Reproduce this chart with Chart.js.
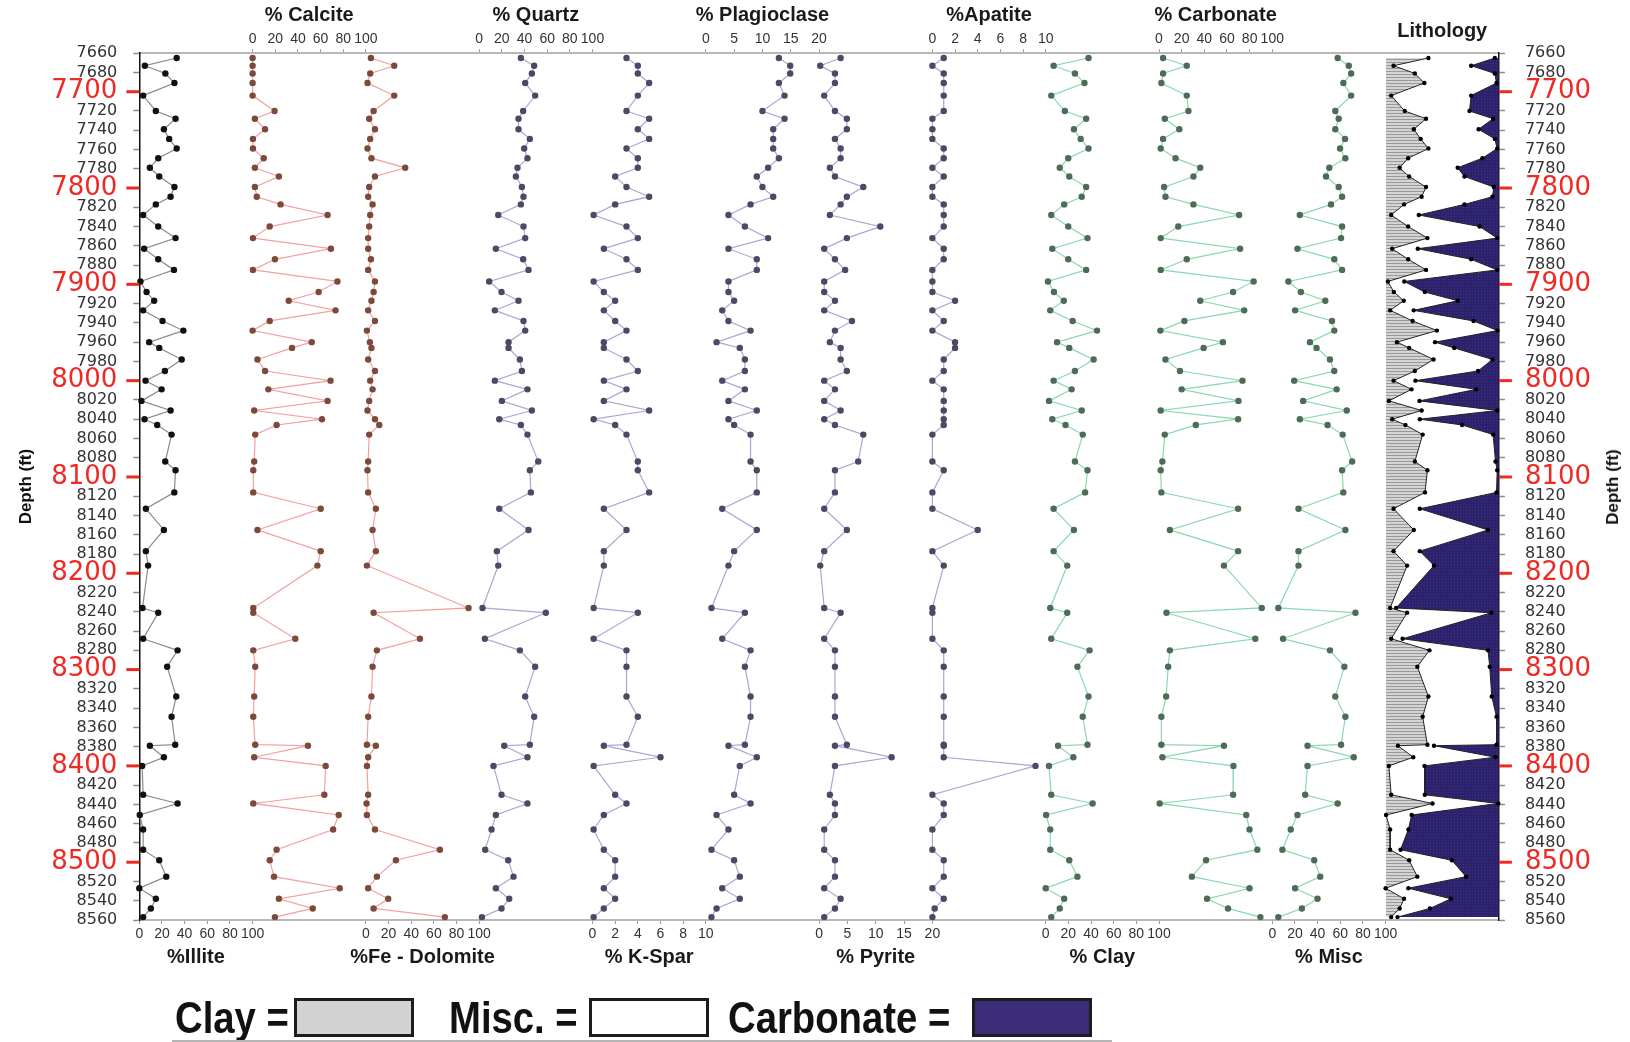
<!DOCTYPE html>
<html>
<head>
<meta charset="utf-8">
<script src="https://cdn.jsdelivr.net/npm/chart.js@4.4.1/dist/chart.umd.min.js"></script>
<style>
  body { margin: 0; background: #fff; width: 1630px; height: 1042px; overflow: hidden; position: relative; font-family: "Liberation Sans", Arial, sans-serif; }
  #wrap canvas { position: absolute; top: 0; }
  .rtitle { position: absolute; left: 1613px; top: 487px; transform: translate(-50%, -50%) rotate(-90deg); font: bold 17px "Liberation Sans", Arial, sans-serif; color: #111; white-space: nowrap; }
  .lg { position: absolute; top: 996px; font: bold 44px/44px "Liberation Sans", Arial, sans-serif; color: #111; transform: scaleX(0.87); transform-origin: 0 0; white-space: nowrap; }
  .box { position: absolute; top: 998px; width: 120px; height: 39px; box-sizing: border-box; border: 3px solid #1c1c1c; }
  .rule { position: absolute; left: 172px; top: 1040px; width: 940px; height: 2px; background: #b4b4b4; }
</style>
</head>
<body>
<div id="wrap"></div>
<div class="rtitle">Depth (ft)</div>
<div class="lg" style="left:175px">Clay =</div>
<div class="box" style="left:294px;background:#d3d3d3"></div>
<div class="lg" style="left:449px">Misc. =</div>
<div class="box" style="left:589px;background:#fff"></div>
<div class="lg" style="left:728px">Carbonate =</div>
<div class="box" style="left:972px;background:#3d2c78"></div>
<div class="rule"></div>
<script>
const depths = [7665, 7673, 7681, 7691, 7704, 7720, 7728, 7739, 7749, 7759,
  7769, 7779, 7788, 7799, 7809, 7817, 7828, 7840, 7852, 7863,
  7874, 7885, 7897, 7908, 7917, 7927, 7938, 7948, 7960, 7966,
  7978, 7990, 8000, 8009, 8021, 8031, 8040, 8046, 8056, 8084,
  8093, 8116, 8133, 8155, 8177, 8192, 8236, 8241, 8268, 8280,
  8297, 8328, 8349, 8378, 8379, 8391, 8400, 8430, 8439, 8451,
  8466, 8487, 8498, 8515, 8527, 8538, 8548, 8557];

const illite = [33, 4.9, 23, 31, 3.4, 14.6, 32, 21.7, 26.4, 33,
  16.7, 9.3, 17.6, 31, 27.6, 14.6, 3.4, 16.7, 32, 4.3,
  16.7, 30.6, 1, 6.4, 13.1, 3.4, 20.5, 38.9, 8.7, 17.6,
  37.4, 22.6, 5.5, 19.7, 1.9, 27.6, 4.6, 15.8, 28.5, 22.9,
  32, 30.9, 5.8, 21.7, 5.8, 7.8, 2.8, 16.7, 3.4, 33.8,
  24.6, 32.6, 28.5, 31.7, 9.3, 21.7, 2.5, 3.4, 33.8, 0.4,
  3.4, 3.4, 17.6, 23.8, 0, 14.6, 10.2, 3.4];

const calcite = [0, 0, 0, 0, 0, 19.4, 2, 11, 0.3, 0.3,
  9.8, 2, 23.2, 2, 3.7, 24.7, 66.2, 15.1, 0.3, 69.1,
  19.7, 0.3, 74.9, 58.3, 31.9, 73.2, 15.1, 0, 52.2, 34.8,
  4.3, 11, 68.8, 13.9, 66.2, 1.4, 61.2, 21.2, 2.3, 1.4,
  0.6, 0.6, 60.1, 4.3, 60.1, 57.2, 0.6, 0.6, 37.7, 0.6,
  2.3, 1.4, 0.6, 2.3, 48.8, 1.4, 64.5, 63.3, 0.6, 76,
  71.1, 21.2, 15.1, 18.9, 76.9, 23.2, 53.1, 19.7];

const feDolomite = [4.4, 25, 3.8, 1.4, 25, 6.8, 2.9, 8, 3.8, 1.4,
  4.9, 34.7, 8, 2.9, 2, 5.9, 3.8, 2.9, 2, 2,
  4.4, 2, 8, 6.8, 4.9, 2, 8, 0.9, 3.5, 4.9,
  2, 8, 3.8, 5.9, 2.9, 1.4, 8, 11.8, 2.9, 2,
  1.4, 2, 8.8, 5.9, 8.8, 0.9, 90.6, 6.8, 47.7, 9.7,
  5.9, 4.9, 2, 0.9, 8.8, 2, 0.9, 2, 0.6, 0.9,
  8, 65.3, 26.5, 9.7, 2, 19.7, 6.8, 69.7];

const quartz = [36.8, 48.5, 46.5, 40.6, 49.4, 38.8, 34.7, 34.7, 44.7, 39.7,
  42.6, 33.8, 32.4, 37.7, 39.1, 36.8, 16.8, 39.1, 40.6, 14.7,
  38.8, 43.5, 8.8, 19.7, 34.7, 13.8, 39.1, 40.6, 25.9, 25.9,
  35.9, 37.7, 13.8, 42.6, 20, 46.5, 17.7, 36.8, 42.6, 52.1,
  44.7, 45.6, 17.7, 43.5, 15.6, 16.8, 2.9, 58.8, 5, 35.9,
  49.4, 40.6, 48.5, 44.7, 22.1, 42.6, 12.6, 19.7, 42.6, 14.7,
  10.9, 5.3, 25.6, 30.3, 14.7, 26.5, 19.7, 2.4];

const kspar = [3, 4, 4, 5, 4, 3, 5, 4, 5, 3,
  4, 4, 2, 3, 5, 2, 0.1, 3, 4, 1,
  3, 4, 0.1, 1, 2, 1, 2, 3, 1, 1,
  3, 4, 1, 3, 1, 5, 0.1, 2, 3, 4,
  4, 5, 1, 3, 1, 1, 0.1, 4, 0.1, 3,
  3, 3, 4, 3, 1, 6, 0.1, 2, 3, 1,
  0.1, 1, 2, 2, 1, 2, 1, 0.1];

const plagioclase = [12.9, 14.9, 14.9, 12.9, 13.9, 10, 13.9, 11.9, 11.9, 11.9,
  12.9, 11, 9, 10, 11.9, 7.9, 4, 6.9, 11, 4,
  9, 9, 4, 4, 5, 2.9, 4, 7.9, 1.9, 6,
  6.9, 6.9, 2.9, 6.9, 4, 9, 4, 5, 7.9, 7.9,
  9, 9, 2.9, 9, 5, 4, 1, 6.9, 2.9, 7.9,
  6.9, 7.9, 7.9, 6.9, 4, 9, 6, 5, 7.9, 1.9,
  4, 1, 5, 6, 2.9, 6, 1.9, 1];

const pyrite = [3.8, 0.2, 2.8, 2.8, 0.9, 2.8, 4.9, 4.9, 2.8, 3.8,
  3.8, 1.9, 2.8, 7.8, 4.9, 3.8, 1.9, 10.8, 4.9, 0.9,
  2.8, 4.6, 0.9, 0.9, 2.8, 0.9, 5.8, 2.8, 1.9, 3.8,
  3.8, 4.9, 0.9, 2.8, 0.9, 3.8, 0.9, 2.8, 7.8, 6.9,
  2.8, 2.8, 0.9, 4.9, 0.9, 0.2, 0.9, 3.8, 0.9, 2.8,
  2.8, 2.8, 2.8, 4.9, 2.8, 12.8, 2.8, 1.9, 2.8, 2.8,
  0.9, 0.9, 2.8, 2.8, 0.9, 3.8, 2.8, 0.9];

const apatite = [1, 0, 1, 1, 1, 1, 0, 0, 0, 1,
  1, 0, 1, 0, 0, 1, 1, 1, 0, 1,
  1, 0, 0, 0, 2, 0, 1, 0, 2, 2,
  1, 1, 0, 1, 1, 1, 1, 1, 0, 0,
  1, 0, 0, 4, 0, 1, 0, 0, 0, 1,
  1, 1, 1, 1, 1, 1, 9.1, 0, 1, 1,
  0, 0, 1, 1, 0, 1, 0.2, 0];

const clay = [37.8, 7, 25.8, 34.2, 4.9, 16.9, 35.7, 24.9, 30.9, 37.8,
  19.9, 12.4, 20.8, 35.7, 31.8, 16.3, 4.9, 19.9, 36.9, 5.8,
  19.9, 35.7, 2, 7.3, 16, 4, 23.8, 45.3, 10, 20.8,
  42.3, 25.8, 7, 22.9, 2.9, 31.8, 5.8, 17.5, 32.7, 25.8,
  36.9, 34.8, 7, 24.9, 7, 19, 4, 19, 4.9, 38.7,
  28, 37.8, 32.7, 36.9, 10.9, 24.4, 2.9, 4.9, 41.4, 0.4,
  4, 4, 20.8, 28, 0, 16.3, 12.4, 4.9];

const carbonate = [3.6, 24.5, 3.6, 2.1, 24.5, 26, 5.1, 17.9, 3.6, 1.5,
  14.6, 36.4, 30.4, 4.5, 5.7, 30.4, 70.7, 17, 1.5, 71.6,
  24.5, 1.5, 83.5, 65.4, 36.4, 75.2, 22.4, 1.2, 56.4, 39.4,
  5.7, 18.5, 73.7, 20, 70.1, 1.5, 69.8, 32.5, 5.1, 3,
  1.5, 2.1, 69.8, 9.6, 69.8, 57.3, 90.7, 6.6, 85, 9.6,
  8.1, 6.3, 2.1, 2.1, 57.3, 3, 65.7, 65.4, 0.6, 77,
  79.9, 86.8, 41.5, 29, 79.9, 42.4, 60.9, 89.5];

const misc = [57.7, 67.5, 69.6, 62.7, 69.6, 55.6, 58.6, 55.6, 64.2, 59.8,
  64.5, 50.3, 47.4, 58.6, 61.6, 51.8, 24.3, 61.6, 60.7, 22.2,
  54.7, 61.6, 14.2, 25.2, 46.8, 20.1, 52.7, 54.7, 33.2, 39,
  50.9, 54.7, 19.3, 56.8, 27.2, 65.7, 24.3, 48.8, 62.1, 70.5,
  61.6, 62.7, 23.1, 64.5, 23.1, 23.1, 5.3, 73.4, 9.5, 50.9,
  63.6, 55.6, 64.5, 60.7, 31.1, 71.9, 31.1, 29, 57.7, 22.2,
  16.3, 8.9, 37, 42.3, 20.1, 39.9, 26.1, 5.3];

// axis ticks
const pctTicks = [0, 20, 40, 60, 80, 100];
const tenTicks = [0, 2, 4, 6, 8, 10];
const twentyTicks = [0, 5, 10, 15, 20];
const depthRange = [7660, 8560];

// page geometry
const X0 = 139.3, TW = 113.3, AREA_TOP = 53.2, AREA_BOTTOM = 920, H = 1042, M = 30;
const RIGHT_W = 1630 - (X0 + 12 * TW);
const RED = '#ee2a24';

const red = { line: '#f4a0a0', dot: '#7b4a3a' };
const blue = { line: '#aaa6d4', dot: '#4b4963' };
const green = { line: '#8ad8b0', dot: '#4e6b55' };

const tracks = [
  { name: '%Illite', values: illite, ticks: pctTicks, side: 'bottom', line: '#8a8a8a', dot: '#111' },
  { name: '% Calcite', values: calcite, ticks: pctTicks, side: 'top', ...red },
  { name: '%Fe - Dolomite', values: feDolomite, ticks: pctTicks, side: 'bottom', ...red },
  { name: '% Quartz', values: quartz, ticks: pctTicks, side: 'top', ...blue },
  { name: '% K-Spar', values: kspar, ticks: tenTicks, side: 'bottom', ...blue },
  { name: '% Plagioclase', values: plagioclase, ticks: twentyTicks, side: 'top', ...blue },
  { name: '% Pyrite', values: pyrite, ticks: twentyTicks, side: 'bottom', ...blue },
  { name: '%Apatite', values: apatite, ticks: tenTicks, side: 'top', ...blue },
  { name: '% Clay', values: clay, ticks: pctTicks, side: 'bottom', ...green },
  { name: '% Carbonate', values: carbonate, ticks: pctTicks, side: 'top', ...green },
  { name: '% Misc', values: misc, ticks: pctTicks, side: 'bottom', ...green }
];

Chart.defaults.font.family = '"Liberation Sans", Arial, sans-serif';

const isMajor = ctx => ctx.tick && ctx.tick.value % 100 === 0;

// long red marks for every 100 ft on the depth axes
const redTicks = {
  id: 'redTicks',
  afterDraw(chart) {
    const s = chart.scales.y;
    if (!s.options.display) return;
    const ctx = chart.ctx;
    const onLeft = s.position === 'left';
    const x = onLeft ? s.right : s.left;
    ctx.save();
    ctx.strokeStyle = RED;
    ctx.lineWidth = 3;
    s.ticks.forEach(t => {
      if (t.value % 100 !== 0) return;
      const y = s.getPixelForValue(t.value);
      ctx.beginPath();
      ctx.moveTo(x, y);
      ctx.lineTo(onLeft ? x - 13 : x + 13, y);
      ctx.stroke();
    });
    ctx.restore();
  }
};

// track name, centred over the track, allowed to run wider than it
const trackTitle = {
  id: 'trackTitle',
  afterDraw(chart, args, opts) {
    if (!opts.text) return;
    const { ctx, chartArea } = chart;
    ctx.save();
    ctx.font = 'bold 20px "Liberation Sans", Arial, sans-serif';
    ctx.fillStyle = '#1a1a1a';
    ctx.textAlign = 'center';
    ctx.textBaseline = 'middle';
    ctx.fillText(opts.text, (chartArea.left + chartArea.right) / 2, opts.y);
    ctx.restore();
  }
};

function depthScale(position) {
  const show = position !== null;
  return {
    type: 'linear',
    display: show,
    position: position || 'left',
    min: depthRange[0],
    max: depthRange[1],
    reverse: true,
    afterFit: s => { if (show) s.width = position === 'left' ? X0 : RIGHT_W; },
    grid: {
      display: true,
      drawOnChartArea: false,
      tickLength: 6,
      tickWidth: 1.5,
      tickColor: ctx => isMajor(ctx) ? 'rgba(0,0,0,0)' : '#8c8c8c'
    },
    border: { display: true, color: '#111', width: 1.5 },
    ticks: {
      stepSize: 20,
      autoSkip: false,
      padding: position === 'left' ? 16 : 20,
      callback: v => String(v),
      color: ctx => isMajor(ctx) ? RED : '#333',
      font: ctx => isMajor(ctx)
        ? { family: '"DejaVu Sans", sans-serif', size: 26 }
        : { family: '"DejaVu Sans", sans-serif', size: 16 }
    },
    title: {
      display: position === 'left',
      text: 'Depth (ft)',
      color: '#111',
      font: { size: 17, weight: 'bold' },
      padding: { top: 16 }
    }
  };
}

function xScale(track, position, labelled) {
  const t = track.ticks;
  const show = labelled && track.showTicks !== false;
  return {
    type: 'linear',
    position,
    min: t[0],
    max: t[t.length - 1],
    afterBuildTicks: s => { s.ticks = t.map(v => ({ value: v })); },
    afterFit: s => { s.height = position === 'top' ? AREA_TOP : H - AREA_BOTTOM; },
    grid: { display: show, drawOnChartArea: false, tickLength: 4, tickColor: '#9a9a9a' },
    border: { display: true, color: '#b8b8b8', width: 2 },
    ticks: {
      display: show,
      autoSkip: false,
      maxRotation: 0,
      minRotation: 0,
      padding: 2,
      color: '#333',
      font: { size: 14 }
    }
  };
}

function placeCanvas(i) {
  const left = X0 + i * TW;
  let L, W;
  if (i === 0) { L = 0; W = Math.ceil(left + TW + M); }
  else if (i === 11) { L = Math.floor(left - M); W = 1630 - L; }
  else { L = Math.floor(left - M); W = Math.ceil(left + TW + M) - L; }
  const c = document.createElement('canvas');
  c.width = W;
  c.height = H;
  c.style.left = L + 'px';
  c.style.width = W + 'px';
  c.style.height = H + 'px';
  document.getElementById('wrap').appendChild(c);
  const padLeft = i === 0 ? 0 : left - L;
  const padRight = i === 11 ? 0 : L + W - (left + TW);
  return { canvas: c, padding: { left: padLeft, right: padRight, top: 0, bottom: 0 } };
}

function buildChart(i, track, datasets) {
  const { canvas, padding } = placeCanvas(i);
  const other = track.side === 'top' ? 'bottom' : 'top';
  const yPos = i === 0 ? 'left' : i === 11 ? 'right' : null;
  const titleY = track.titleY || (track.side === 'top' ? 15.6 : 957);
  return new Chart(canvas, {
    type: 'line',
    data: { datasets: typeof datasets === 'function' ? datasets(canvas) : datasets },
    options: {
      responsive: false,
      animation: false,
      events: [],
      indexAxis: 'y',
      layout: { padding },
      plugins: {
        legend: { display: false },
        tooltip: { enabled: false },
        trackTitle: { text: track.name, y: titleY }
      },
      scales: {
        x: xScale(track, track.side, true),
        x2: xScale(track, other, false),
        y: depthScale(yPos)
      }
    },
    plugins: [redTicks, trackTitle]
  });
}

tracks.forEach((track, i) => {
  buildChart(i, track, [{
    data: depths.map((d, k) => ({ x: track.values[k], y: d })),
    xAxisID: 'x',
    yAxisID: 'y',
    borderColor: track.line,
    borderWidth: 1.2,
    pointRadius: 3.2,
    pointBorderWidth: 0,
    pointBackgroundColor: track.dot,
    tension: 0,
    fill: false,
    clip: false
  }]);
});

// lithology track: clay filled from the left, carbonate from the right
const carbonateEdge = carbonate.map(v => 100 - v);

function pattern(canvas, base, mark, w, h, dots) {
  const p = document.createElement('canvas');
  p.width = w; p.height = h;
  const g = p.getContext('2d');
  g.fillStyle = base;
  g.fillRect(0, 0, w, h);
  g.fillStyle = mark;
  if (dots) g.fillRect(0, 0, 1, 1);
  else g.fillRect(0, h - 1, w, 1);
  return canvas.getContext('2d').createPattern(p, 'repeat');
}

buildChart(11, { name: 'Lithology', ticks: pctTicks, side: 'top', showTicks: false, titleY: 31 }, canvas => [
  {
    data: depths.map((d, k) => ({ x: clay[k], y: d })),
    xAxisID: 'x',
    yAxisID: 'y',
    borderColor: '#222',
    borderWidth: 1,
    pointRadius: 2.2,
    pointBorderWidth: 0,
    pointBackgroundColor: '#000',
    backgroundColor: pattern(canvas, '#d4d4d4', '#999999', 4, 3, false),
    fill: { value: 0 },
    tension: 0,
    clip: false
  },
  {
    data: depths.map((d, k) => ({ x: carbonateEdge[k], y: d })),
    xAxisID: 'x',
    yAxisID: 'y',
    borderColor: '#222',
    borderWidth: 1,
    pointRadius: 2.2,
    pointBorderWidth: 0,
    pointBackgroundColor: '#000',
    backgroundColor: pattern(canvas, '#2c226c', '#3f3587', 3, 3, true),
    fill: { value: 100 },
    tension: 0,
    clip: false
  }
]);
</script>
</body>
</html>
